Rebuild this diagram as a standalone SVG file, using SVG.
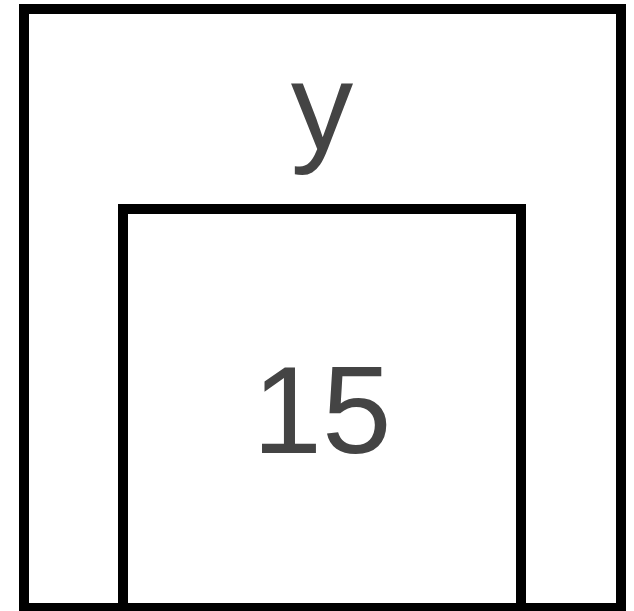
<svg xmlns="http://www.w3.org/2000/svg" width="634" height="611" viewBox="0 0 634 611">
<style>
.box{fill:none;stroke:#000;stroke-width:10}
.lbl{font-family:"Liberation Sans",Arial,sans-serif;font-size:125px;fill:#444;text-anchor:middle}
</style>
<rect width="634" height="611" fill="#fff"/>
<g id="outer">
<rect class="box" x="24" y="9" width="597" height="599"/>
<text class="lbl" x="322" y="149">y</text>
</g>
<g id="inner">
<rect class="box" x="123" y="209" width="398" height="399"/>
<text class="lbl" x="322" y="453">15</text>
</g>
<g id="connectors"></g>
</svg>
